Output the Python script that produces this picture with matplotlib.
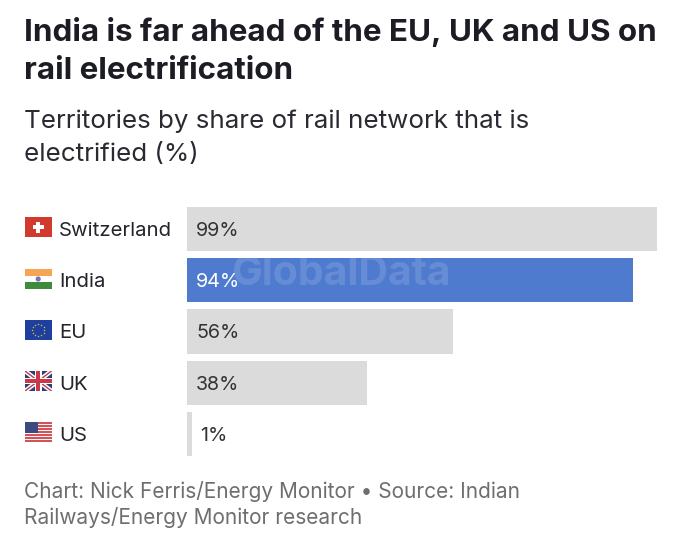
import matplotlib
matplotlib.use("Agg")
import matplotlib.pyplot as plt
from matplotlib.patches import Rectangle, Circle
import numpy as np

plt.rcParams["font.family"] = ["Inter", "DejaVu Sans"]

territories = ["Switzerland", "India", "EU", "UK", "US"]
shares = [99, 94, 56, 38, 1]
highlight = "India"

W, H = 680, 557
GREY = "#dbdbdb"
BLUE = "#4f7bcf"
DARK = "#24242c"
FOOT = "#6e6e6e"

fig = plt.figure(figsize=(W / 100, H / 100), dpi=100, facecolor="white")


def fx(px):
    return px / W


def fy(py):
    return 1 - py / H


# bars, 470 px = 99%
top, bottom = 207, 456
ax = fig.add_axes([fx(187), fy(bottom), (W - 187) / W, (bottom - top) / H])
ax.set_xlim(0, (W - 187) / (470 / 99))
ax.set_ylim(4.43, -0.43)
ax.axis("off")
colors = [BLUE if t == highlight else GREY for t in territories]
ax.barh(range(len(shares)), shares, height=0.86, color=colors)

for i, (t, v) in enumerate(zip(territories, shares)):
    ax.text(v + 1.7 if v < 5 else 1.9, i, f"{v}%", va="center_baseline", ha="left",
            fontsize=14.2, color="white" if t == highlight else "#333333")


# flags
def flag_ax(py0, h=20):
    a = fig.add_axes([fx(25), fy(py0 + h), 26.5 / W, h / H])
    a.set_xlim(0, 26.5)
    a.set_ylim(h, 0)
    a.axis("off")
    return a


def box(a, x, y, w, h, c, z=2):
    a.add_patch(Rectangle((x, y), w, h, facecolor=c, linewidth=0, zorder=z))


a = flag_ax(217)
box(a, 0, 0, 26.5, 20, "#d13b2e")
box(a, 11.2, 4.5, 4, 11, "white", 3)
box(a, 7.7, 8, 11, 4, "white", 3)

a = flag_ax(269)
box(a, 0, 0, 26.5, 6.7, "#f6a552")
box(a, 0, 13.3, 26.5, 6.7, "#3f8a3c")
a.add_patch(Circle((13.2, 10), 2.6, facecolor="#7c74b5", linewidth=0))

a = flag_ax(320)
box(a, 0, 0, 26.5, 20, "#1f3f9e")
ang = np.linspace(0, 2 * np.pi, 12, endpoint=False)
a.scatter(13.2 + 6.2 * np.cos(ang), 10 + 6.2 * np.sin(ang), s=1.2, color="#c9b94a", linewidths=0, zorder=3)

a = flag_ax(371)
box(a, 0, 0, 26.5, 20, "#2b3f78", 1)
a.plot([0, 26.5], [0, 20], color="white", lw=3.2, solid_capstyle="butt", zorder=2)
a.plot([0, 26.5], [20, 0], color="white", lw=3.2, solid_capstyle="butt", zorder=2)
a.plot([0, 26.5], [0, 20], color="#c8394a", lw=1, solid_capstyle="butt", zorder=2)
a.plot([0, 26.5], [20, 0], color="#c8394a", lw=1, solid_capstyle="butt", zorder=2)
box(a, 10, 0, 6.5, 20, "white", 3)
box(a, 0, 7, 26.5, 6, "white", 3)
box(a, 11.3, 0, 3.9, 20, "#c8394a", 4)
box(a, 0, 8.2, 26.5, 3.6, "#c8394a", 4)

a = flag_ax(422)
box(a, 0, 0, 26.5, 20, "#fbf3f3", 1)
for k in range(0, 13, 2):
    box(a, 0, k * 20 / 13, 26.5, 20 / 13, "#d0545a")
box(a, 0, 0, 12.5, 10.8, "#3d4a80", 3)

# row labels
for i, t in enumerate(territories):
    y = 229 + i * 51.2
    fig.text(fx(59), fy(y), t, fontsize=14.65, color=DARK, va="center_baseline", ha="left")

# headings
fig.text(fx(24), fy(29), "India is far ahead of the EU, UK and US on", fontsize=22.6,
         fontweight="bold", color="#1c1c24", va="center_baseline")
fig.text(fx(24), fy(68), "rail electrification", fontsize=22.6, fontweight="bold",
         color="#1c1c24", va="center_baseline")
fig.text(fx(24), fy(119), "Territories by share of rail network that is", fontsize=18.7,
         color="#2a2a32", va="center_baseline")
fig.text(fx(24), fy(152), "electrified (%)", fontsize=18.7, color="#2a2a32", va="center_baseline")

# footer
fig.text(fx(24), fy(490), "Chart: Nick Ferris/Energy Monitor • Source: Indian", fontsize=15,
         color=FOOT, va="center_baseline")
fig.text(fx(24), fy(516), "Railways/Energy Monitor research", fontsize=15, color=FOOT,
         va="center_baseline")

# watermark
fig.text(fx(341), fy(270), "GlobalData", fontsize=29.5, fontweight="bold", color="white",
         alpha=0.13, ha="center", va="center_baseline", zorder=10)

fig.savefig("out.png", dpi=100)
